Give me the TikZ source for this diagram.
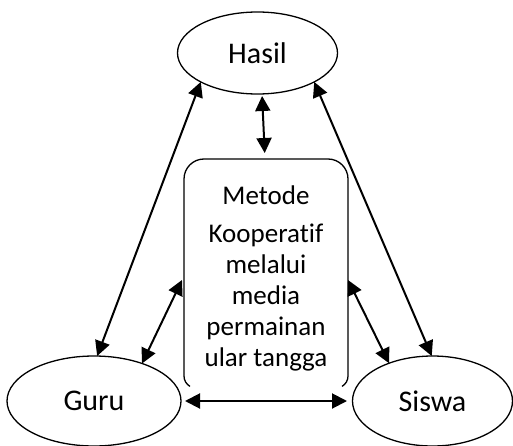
\documentclass[tikz,border=0pt]{standalone}
\usepackage{fontspec}
\setmainfont{Carlito}[Ligatures=NoCommon]
\usetikzlibrary{shapes.geometric,arrows.meta}
\begin{document}
\begin{tikzpicture}[x=1pt,y=1pt,
  ell/.style={draw,ellipse,line width=1.3pt,inner sep=0pt,outer sep=0pt,font=\fontsize{30}{35}\selectfont},
  conn/.style={line width=2pt,{Triangle[length=15pt,width=15pt]}-{Triangle[length=15pt,width=15pt]}},
  boxtxt/.style={align=center,font=\fontsize{27}{31}\selectfont,inner sep=0pt}]
\useasboundingbox (0,0) rectangle (513,445);
\node[ell,minimum width=160,minimum height=82] (hasil) at (257.5,392) {Hasil};
\node[ell,minimum width=174,minimum height=90] (guru) at (94,44) {Guru};
\node[ell,minimum width=160,minimum height=90] (siswa) at (432.5,44) {Siswa};
\node[minimum width=164,minimum height=229,inner sep=0pt,outer sep=0pt] (box) at (266,171.5) {};
\draw[line width=1.3pt] ([shift={(6,1.6)}]box.south west) arc[start angle=240,end angle=180,radius=12]
  -- ([yshift=-20]box.north west) arc[start angle=180,end angle=90,radius=20]
  -- ([xshift=-20]box.north east) arc[start angle=90,end angle=0,radius=20]
  -- ([yshift=12]box.south east) arc[start angle=0,end angle=-60,radius=12];
\node[boxtxt] (txt) at ([yshift=-4.5]box.center) {Metode\\[7pt]Kooperatif\\melalui\\media\\permainan\\ular tangga};
\draw[conn] (hasil.207) -- (guru.86);
\draw[conn] (hasil.333) -- (siswa.91);
\draw[conn,shorten <=2pt,shorten >=6pt] ([xshift=4.5]hasil.south) -- ([xshift=-1]box.north);
\draw[conn] (guru.38) -- ([shift={(-2,-6.5)}]box.west);
\draw[conn] ([yshift=-6.5]box.east) -- (siswa.139);
\draw[conn,shorten <=4pt,shorten >=5.5pt] (guru.east) -- (siswa.west);
\end{tikzpicture}
\end{document}
